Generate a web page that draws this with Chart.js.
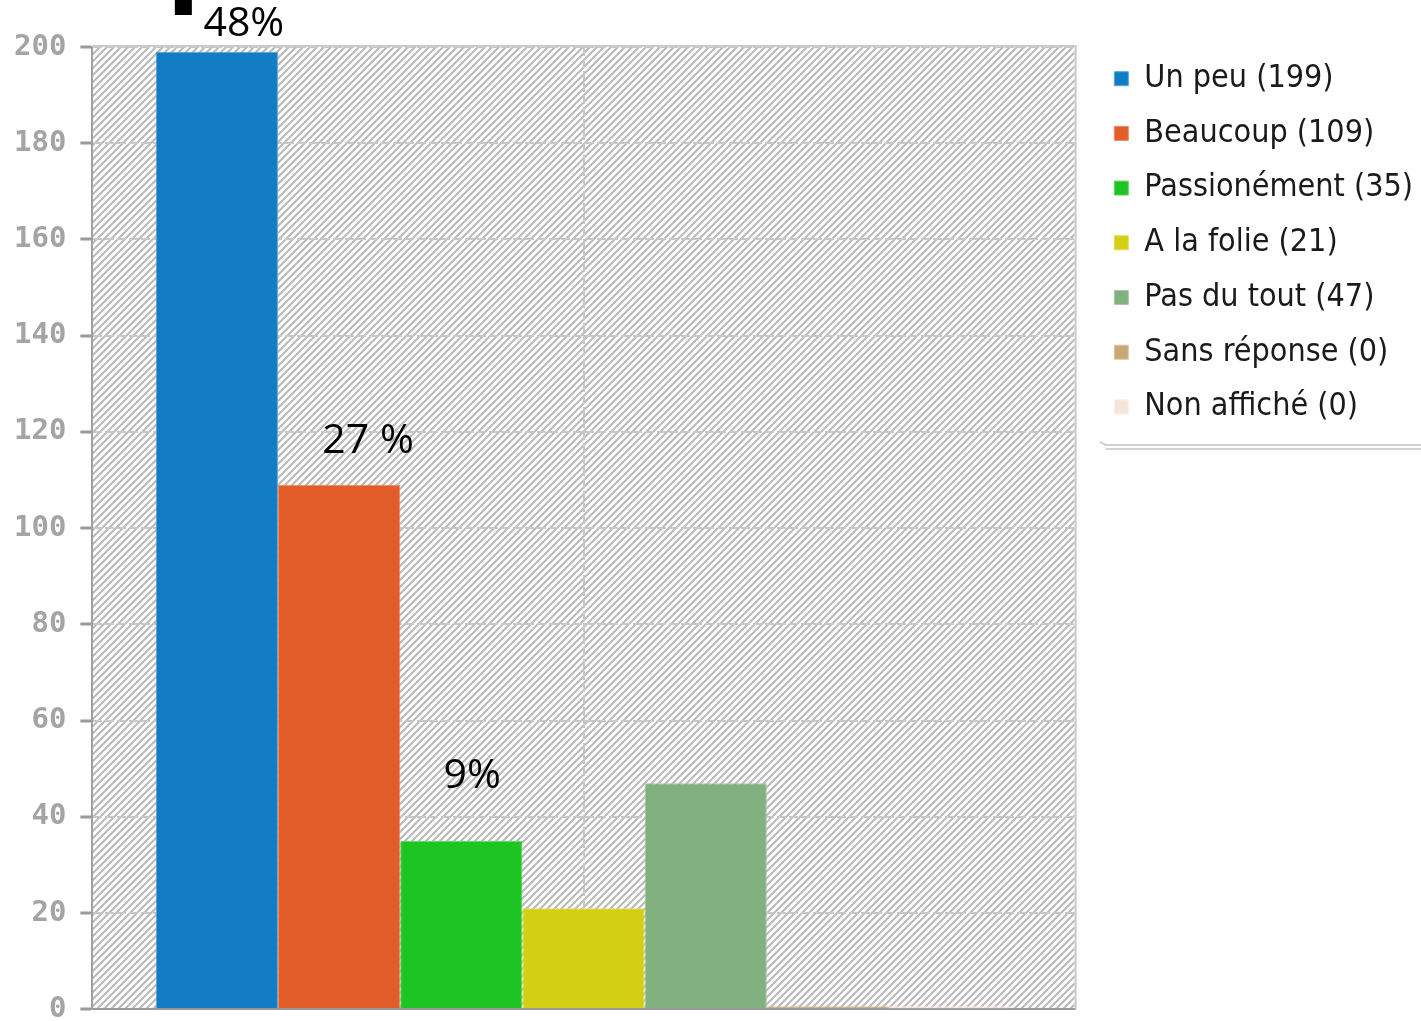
<!DOCTYPE html>
<html>
<head>
<meta charset="utf-8">
<script src="https://cdn.jsdelivr.net/npm/chart.js@4/dist/chart.umd.min.js"></script>
<style>
html, body { margin: 0; padding: 0; background: #fff; overflow: hidden; }
#cont { width: 1421px; height: 1032px; }
</style>
</head>
<body>
<div id="cont"><canvas id="grafico"></canvas></div>
<script>
// Respuestas y cantidades
const categorias = ['Un peu', 'Beaucoup', 'Passionément', 'A la folie', 'Pas du tout', 'Sans réponse', 'Non affiché'];
const valores = [199, 109, 35, 21, 47, 0, 0];
const colores = ['#127cc4', '#e35d2b', '#1ec421', '#d3cf14', '#82b180', '#c9a878', '#f6e4d9'];
const coloresBorde = ['#5aa4d8', '#ee8a64', '#66d868', '#e2df5c', '#a8caa6', '#dcc4a2', '#faefe8'];
// Porcentajes escritos encima de las tres primeras barras
const porcentajes = ['48%', '27 %', '9%'];
const ejeY = { min: 0, max: 200, paso: 20 };

//###Trama rayada del fondo
function trama(ctx) {
  const p = 7;
  const c = document.createElement('canvas');
  c.width = p; c.height = p;
  const g = c.getContext('2d');
  g.fillStyle = '#ffffff';
  g.fillRect(0, 0, p, p);
  g.strokeStyle = '#bababa';
  g.lineWidth = 2.1;
  g.beginPath();
  g.moveTo(-p, p); g.lineTo(p, -p);
  g.moveTo(0, p); g.lineTo(p, 0);
  g.moveTo(0, 2 * p); g.lineTo(2 * p, 0);
  g.stroke();
  return ctx.createPattern(c, 'repeat');
}

const fondo = {
  id: 'fondo',
  beforeDraw(chart) {
    const { ctx, chartArea: a } = chart;
    ctx.save();
    ctx.fillStyle = trama(ctx);
    ctx.fillRect(a.left, a.top, a.right - a.left, a.bottom - a.top);
    ctx.restore();
  },
  afterLayout(chart) {
    // leyenda pegada al area del grafico, arriba
    const l = chart.legend;
    l.left = chart.chartArea.right + 17;
    l.right = chart.width;
    l.top = chart.chartArea.top - 7;
  },
  afterDraw(chart) {
    const { ctx, chartArea: a } = chart;
    ctx.save();
    // marco del area
    ctx.strokeStyle = '#cacaca';
    ctx.lineWidth = 2;
    ctx.beginPath();
    ctx.moveTo(a.left, a.top - 1);
    ctx.lineTo(a.right + 1, a.top - 1);
    ctx.lineTo(a.right + 1, a.bottom);
    ctx.stroke();
    // linea bajo la leyenda
    const cajas = chart.legend.legendHitBoxes;
    const ult = cajas[cajas.length - 1];
    const yl = ult.top + ult.height + 22;
    ctx.strokeStyle = '#c4c4c4';
    ctx.lineWidth = 1.5;
    ctx.beginPath();
    ctx.moveTo(chart.legend.left + 8, yl - 3);
    ctx.lineTo(chart.legend.left + 14, yl);
    ctx.lineTo(chart.width, yl);
    ctx.moveTo(chart.legend.left + 14, yl + 4);
    ctx.lineTo(chart.width, yl + 4);
    ctx.stroke();
    // porcentajes
    const desp = [[27, -27], [29, -44], [11, -65]];
    ctx.fillStyle = '#000';
    ctx.font = '41px "Open Sans"';
    ctx.textAlign = 'center';
    ctx.textBaseline = 'middle';
    porcentajes.forEach((t, i) => {
      const b = chart.getDatasetMeta(i).data[0];
      ctx.fillText(t, b.x + desp[i][0], b.y + desp[i][1]);
    });
    const b0 = chart.getDatasetMeta(0).data[0];
    ctx.fillRect(b0.x - 42, a.top - 47, 17, 15);
    ctx.restore();
  }
};

var ctx = document.getElementById('grafico').getContext('2d');
var graf = new Chart(ctx, {
  type: 'bar',
  data: {
    labels: [''],
    datasets: categorias.map((c, i) => ({
      label: c + ' (' + valores[i] + ')',
      data: [valores[i]],
      backgroundColor: colores[i],
      borderColor: coloresBorde[i],
      borderWidth: 1,
      minBarLength: 3,
      categoryPercentage: 0.871,
      barPercentage: 1
    }))
  },
  options: {
    responsive: true,
    maintainAspectRatio: false,
    animation: false,
    layout: { padding: { top: 47, left: 0, right: 15, bottom: 0 } },
    plugins: {
      tooltip: { enabled: false },
      legend: {
        position: 'right',
        align: 'start',
        maxWidth: 345,
        labels: {
          boxWidth: 14,
          boxHeight: 14,
          padding: 22.7,
          color: '#1a1a1a',
          font: { family: '"DejaVu Sans Condensed"', size: 32 }
        }
      }
    },
    scales: {
      x: {
        ticks: { display: false },
        grid: { offset: false, color: '#c8c8c8', lineWidth: 2, drawTicks: false },
        border: { color: '#999999', width: 2, dash: [9, 3] },
        afterFit(scale) { scale.height = 0; }
      },
      y: {
        min: ejeY.min,
        max: ejeY.max,
        ticks: {
          stepSize: ejeY.paso,
          padding: 14,
          color: '#a4a4a4',
          font: { family: '"DejaVu Sans Mono"', size: 29, weight: 'bold', lineHeight: 0.6 }
        },
        grid: { color: '#c8c8c8', lineWidth: 2, tickLength: 12, tickColor: '#999999', tickWidth: 3 },
        border: { color: '#a0a0a0', width: 2, dash: [9, 3] }
      }
    }
  },
  plugins: [fondo]
});
</script>
</body>
</html>
